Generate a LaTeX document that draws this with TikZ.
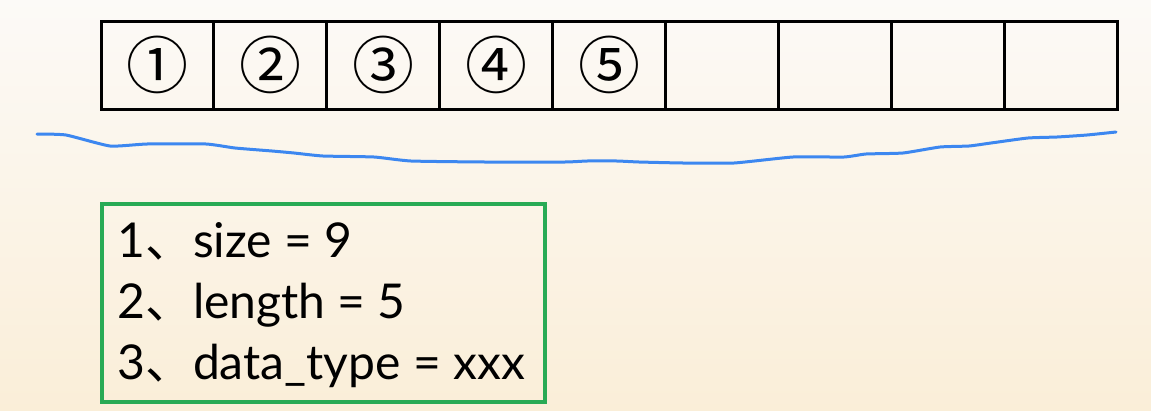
\documentclass[tikz,border=0pt]{standalone}
\usepackage{fontspec}
\setmainfont{Lato}
\newfontfamily\cjk{Noto Sans CJK SC}
\usetikzlibrary{positioning}

\definecolor{boxgreen}{RGB}{40,170,85}
\definecolor{penblue}{RGB}{60,135,240}
\definecolor{paper}{RGB}{252,250,247}
\definecolor{peach}{RGB}{250,238,216}

\tikzset{
 cell/.style={draw, line width=3pt, outer sep=0pt, inner sep=0pt,
  minimum width=112.9pt, minimum height=88pt, font=\cjk\fontsize{62}{62}\selectfont},
 infobox/.style={draw=boxgreen, line width=3.5pt, minimum width=443pt, minimum height=198pt},
 infoline/.style={anchor=base west, inner sep=0pt, font=\fontsize{48}{48}\selectfont},
}

\begin{document}
\begin{tikzpicture}[x=1pt,y=-1pt]
 \shade[top color=paper, bottom color=peach] (0,0) rectangle (1151,410);
 \useasboundingbox (0,0) rectangle (1151,410);
 \node[cell] (c1) at (157.5,65) {①};
 \foreach \i/\txt [remember=\i as \prev (initially 1)] in {2/②,3/③,4/④,5/⑤,6/,7/,8/,9/}
  \node[cell, right=0pt of c\prev] (c\i) {\txt};
 \draw[penblue, line width=3pt, line join=round, line cap=round]
  plot[smooth, tension=0.3] coordinates {
  (37,134) (66,135) (110,146) (147,144) (206,144) (235,148) (272,151)
  (294,153) (323,156) (374,157) (411,161) (485,162) (565,162) (587,161)
  (617,161) (639,162) (683,163) (734,163) (793,157) (844,157) (866,154)
  (903,153) (940,147) (969,146) (991,143) (1028,138) (1057,137)
  (1087,135) (1116,132)};
 \node[infobox, anchor=north west] (info) at (100,202) {};
 \node[infoline] (l1) at (117,257) {1{\cjk 、}size = 9};
 \node[infoline] (l2) at (117,318) {2{\cjk 、}length = 5};
 \node[infoline] (l3) at (117,379) {3{\cjk 、}data\_type = xxx};
\end{tikzpicture}
\end{document}
